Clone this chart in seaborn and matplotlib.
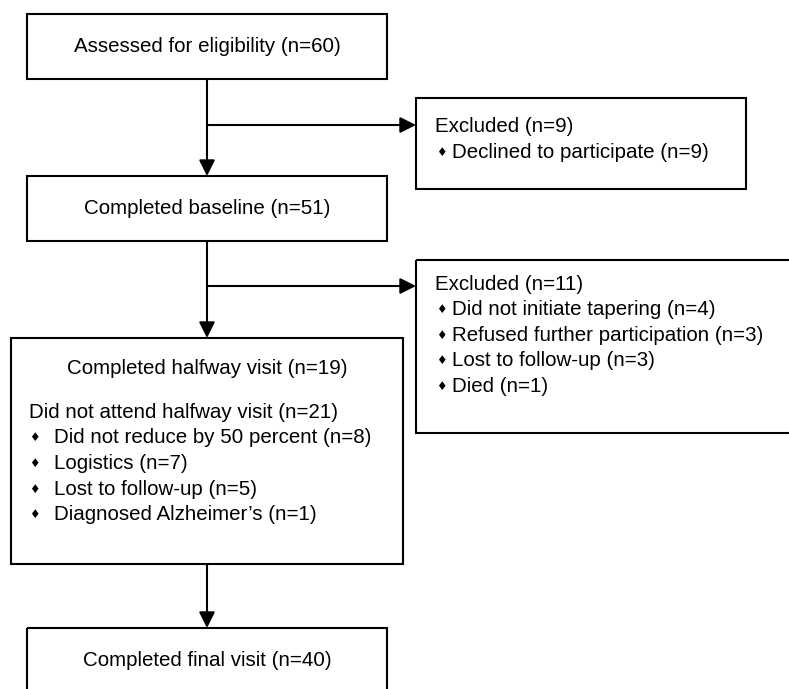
import matplotlib
matplotlib.use("Agg")
from matplotlib import pyplot as plt
from matplotlib.patches import Rectangle
import seaborn as sns

sns.set_theme(style="white")
plt.rcParams['font.family'] = ['Liberation Sans', 'DejaVu Sans']
plt.rcParams['text.color'] = 'black'

# flow stages and counts
stageLabels = ['Assessed for eligibility', 'Completed baseline', 'Completed halfway visit', 'Completed final visit']
stageCounts = [60, 51, 19, 40]

excl1Count = 9
excl1Reasons = ['Declined to participate']
excl1ReasonCounts = [9]

excl2Count = 11
excl2Reasons = ['Did not initiate tapering', 'Refused further participation', 'Lost to follow-up', 'Died']
excl2ReasonCounts = [4, 3, 3, 1]

missedLabel = 'Did not attend halfway visit'
missedCount = 21
missedReasons = ['Did not reduce by 50 percent', 'Logistics', 'Lost to follow-up', "Diagnosed Alzheimer\u2019s"]
missedReasonCounts = [8, 7, 5, 1]

W, H = 789, 689
fig = plt.figure(figsize=(W / 100, H / 100), dpi=100)
ax = fig.add_axes([0, 0, 1, 1])
ax.set_xlim(0, W)
ax.set_ylim(H, 0)
ax.axis('off')

FS = 14.8
LW = 1.5
cx = 207


def box(x0, y0, x1, y1):
    ax.add_patch(Rectangle((x0, y0), x1 - x0, y1 - y0, fill=False, ec='black', lw=LW, clip_on=False))


def arrow(x0, y0, x1, y1):
    ax.annotate('', xy=(x1, y1), xytext=(x0, y0),
                arrowprops=dict(arrowstyle='-|>,head_length=0.6,head_width=0.3', color='black', lw=LW,
                                mutation_scale=16, shrinkA=0, shrinkB=0))


def bulletList(xb, xt, y0, step, items, counts):
    for i, (name, n) in enumerate(zip(items, counts)):
        y = y0 + i * step
        ax.text(xb, y, '\u2666', fontsize=8.5, ha='center', va='center', color='black', family=['DejaVu Sans'])
        ax.text(xt, y, '{:} (n={:})'.format(name, n), fontsize=FS, ha='left', va='center', color='black')


# main column boxes
box(27, 14, 387, 79)
ax.text(cx, 46, '{:} (n={:})'.format(stageLabels[0], stageCounts[0]), fontsize=FS, ha='center', va='center', color='black')

box(27, 176, 387, 241)
ax.text(cx, 208, '{:} (n={:})'.format(stageLabels[1], stageCounts[1]), fontsize=FS, ha='center', va='center', color='black')

box(11, 338, 403, 564)
ax.text(cx, 368, '{:} (n={:})'.format(stageLabels[2], stageCounts[2]), fontsize=FS, ha='center', va='center', color='black')
ax.text(29, 412, '{:} (n={:})'.format(missedLabel, missedCount), fontsize=FS, ha='left', va='center', color='black')
bulletList(34, 54, 437.5, 25.8, missedReasons, missedReasonCounts)

box(27, 628, 387, 720)
ax.text(cx, 660, '{:} (n={:})'.format(stageLabels[3], stageCounts[3]), fontsize=FS, ha='center', va='center', color='black')

# side boxes
box(416, 98, 746, 189)
ax.text(435, 127, 'Excluded (n={:})'.format(excl1Count), fontsize=FS, ha='left', va='center', color='black')
bulletList(441, 452, 153, 25.8, excl1Reasons, excl1ReasonCounts)

box(416, 260, 800, 433)
ax.text(435, 284, 'Excluded (n={:})'.format(excl2Count), fontsize=FS, ha='left', va='center', color='black')
bulletList(441, 452, 309.5, 25.7, excl2Reasons, excl2ReasonCounts)

# connectors
arrow(cx, 79, cx, 176)
arrow(cx, 125, 416, 125)
arrow(cx, 241, cx, 338)
arrow(cx, 286, 416, 286)
arrow(cx, 564, cx, 628)

fig.savefig('out.png', dpi=100, facecolor='white')
